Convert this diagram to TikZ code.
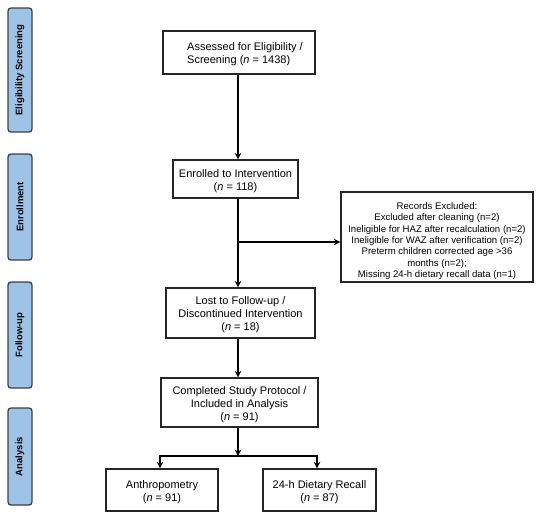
\documentclass[tikz,border=0pt]{standalone}
\usepackage{fontspec}
\setmainfont{Liberation Sans}
\usetikzlibrary{arrows.meta}
\definecolor{sideblue}{RGB}{157,195,230}
\definecolor{sideline}{RGB}{60,64,72}
\newcommand{\fl}{\rule{0pt}{12pt}}
\begin{document}
\begin{tikzpicture}[x=1pt,y=-1pt,
  box/.style={draw=black!85, line width=1.1pt, fill=white, inner sep=0pt,
    font=\fontsize{11}{13}\selectfont, align=center},
  sidebox/.style={draw=sideline, line width=1.3pt, fill=sideblue, rounded corners=3pt,
    inner sep=0pt, rotate=90, minimum height=24pt, font=\fontsize{9.5}{10}\selectfont\bfseries},
  arr/.style={line width=2pt, -{Stealth[length=6.5pt,width=6.5pt]}}]
\useasboundingbox (0,0) rectangle (550,528);

% side labels
\node[sidebox, minimum width=124pt] (s1) at (20,70) {Eligibility Screening};
\node[sidebox, minimum width=106pt] (s2) at (20,207) {Enrollment};
\node[sidebox, minimum width=106pt] (s3) at (20,335) {Follow-up};
\node[sidebox, minimum width=97pt] (s4) at (20,456.5) {Analysis};

% main boxes
\node[box, minimum width=152pt, minimum height=43pt] (b1) at (239,52.5) {};
\node[anchor=west, align=left, inner sep=0pt, font=\fontsize{11}{13.5}\selectfont] (b1t) at (187,54) {Assessed for Eligibility /\\Screening (\textit{n} = 1438)};
\node[box, minimum width=125pt, minimum height=38pt] (b2) at (235.5,179) {\fl Enrolled to Intervention\\(\textit{n} = 118)};
\node[box, minimum width=149pt, minimum height=50pt] (b3) at (240.5,313) {\fl Lost to Follow-up /\\Discontinued Intervention\\(\textit{n} = 18)};
\node[box, minimum width=157pt, minimum height=49pt] (b4) at (239.5,402.5) {\fl Completed Study Protocol /\\Included in Analysis\\(\textit{n} = 91)};
\node[box, minimum width=112pt, minimum height=42pt] (b5) at (162,490) {\fl Anthropometry\\(\textit{n} = 91)};
\node[box, minimum width=113pt, minimum height=42pt] (b6) at (319.5,490) {\fl 24-h Dietary Recall\\(\textit{n} = 87)};
\node[box, minimum width=192pt, minimum height=90pt, font=\fontsize{9.6}{11.3}\selectfont] (ex) at (437,237)
  {\rule{0pt}{15pt}Records Excluded:\\Excluded after cleaning (n=2)\\Ineligible for HAZ after recalculation (n=2)\\Ineligible for WAZ after verification (n=2)\\Preterm children corrected age >36\\months (n=2);\\Missing 24-h dietary recall data (n=1)};

% connectors
\coordinate (sp) at (238,0);
\coordinate (exo) at (238,242);
\coordinate (br) at (238,456);
\coordinate (bl) at (160,456);
\coordinate (brr) at (317,456);
\draw[arr] (b1.south -| sp) -- (b2.north -| sp);
\draw[arr] (b2.south -| sp) -- (b3.north -| sp);
\draw[arr] (exo) -- (ex.west |- exo);
\draw[arr] (b3.south -| sp) -- (b4.north -| sp);
\draw[arr] (b4.south -| br) -- (br);
\draw[arr] (br) -| (b5.north -| bl);
\draw[arr] (br) -| (b6.north -| brr);
\end{tikzpicture}
\end{document}
